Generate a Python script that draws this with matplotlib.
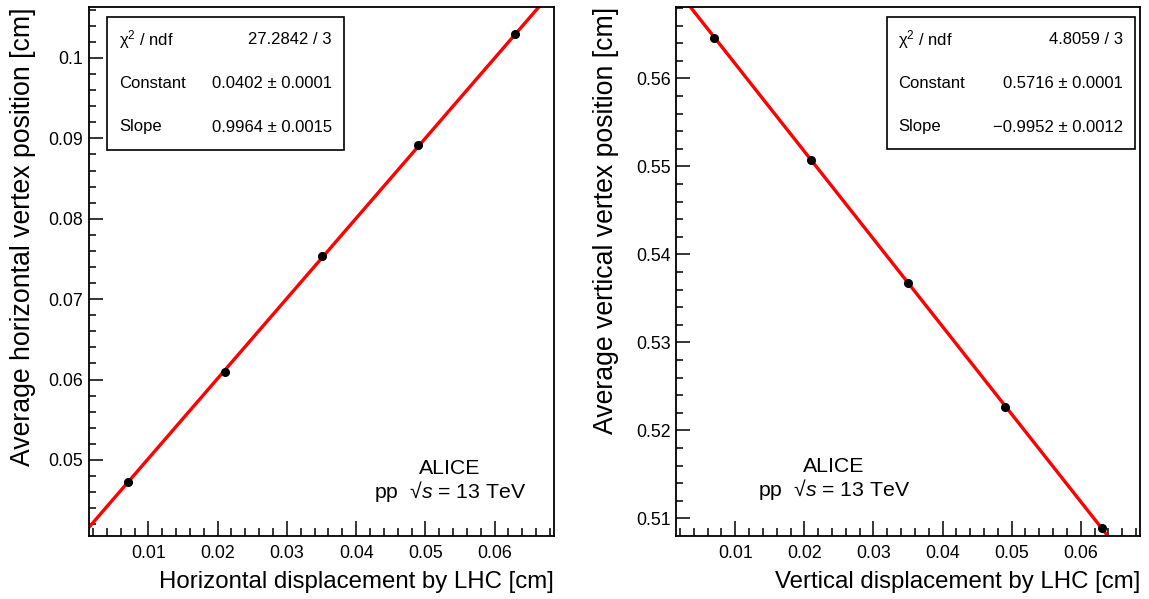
import numpy as np
import matplotlib
matplotlib.use("Agg")
import matplotlib.pyplot as plt
from matplotlib.patches import Rectangle
from matplotlib.ticker import MultipleLocator, FormatStrFormatter

plt.rcParams['font.family'] = ['Liberation Sans', 'DejaVu Sans']
plt.rcParams['mathtext.fontset'] = 'custom'
plt.rcParams['mathtext.rm'] = 'Liberation Sans'
plt.rcParams['mathtext.it'] = 'Liberation Sans:italic'

# ---- data ----
displacement = [0.007, 0.021, 0.035, 0.049, 0.063]
horiz_pos = [0.0473, 0.0609, 0.0754, 0.0892, 0.1030]
vert_pos = [0.5646, 0.5507, 0.5367, 0.5227, 0.5089]

horiz_fit = {"chi2": "27.2842 / 3", "const": 0.0402, "const_err": 0.0001,
             "slope": 0.9964, "slope_err": 0.0015}
vert_fit = {"chi2": "4.8059 / 3", "const": 0.5716, "const_err": 0.0001,
            "slope": -0.9952, "slope_err": 0.0012}

xlim = (0.00143, 0.06857)
horiz_ylim = (0.0406, 0.1063)
vert_ylim = (0.50805, 0.56807)

W, H = 1149, 599
fig = plt.figure(figsize=(W / 100, H / 100), dpi=100)


def px(x0, y0, x1, y1):
    return [x0 / W, 1 - y1 / H, (x1 - x0) / W, (y1 - y0) / H]


def fmt(v):
    s = "%.4f" % v
    return s.replace("-", "\u2212")


def panel(rect, y, fit, ylim, xlabel, ylabel, ylab_x,
          box, lab_x, val_x, alice_x, yl0):
    ax = fig.add_axes(px(*rect))
    ax.set_xlim(*xlim)
    ax.set_ylim(*ylim)
    ax.xaxis.set_major_locator(MultipleLocator(0.01))
    ax.xaxis.set_minor_locator(MultipleLocator(0.002))
    ax.yaxis.set_major_locator(MultipleLocator(0.01))
    ax.yaxis.set_minor_locator(MultipleLocator(0.002))
    ax.xaxis.set_major_formatter(FormatStrFormatter('%g'))
    ax.yaxis.set_major_formatter(FormatStrFormatter('%g'))
    ax.tick_params(axis='x', which='major', direction='in', length=11, width=1.1,
                   labelsize=12.8, pad=7)
    ax.tick_params(axis='x', which='minor', direction='in', length=5.5, width=1.1)
    ax.tick_params(axis='y', which='major', direction='in', length=10, width=1.1,
                   labelsize=12.8, pad=4)
    ax.tick_params(axis='y', which='minor', direction='in', length=5, width=1.1)
    for s in ax.spines.values():
        s.set_linewidth(1.3)

    xs = np.linspace(xlim[0], xlim[1], 200)
    ax.plot(xs, fit["const"] + fit["slope"] * xs, color='#ff0000', lw=2.4,
            zorder=2)
    ax.plot(displacement, y, 'o', color='black', ms=5.5, zorder=3)

    ax.set_xlabel(xlabel, fontsize=17.3, loc='right')
    ax.xaxis.set_label_coords(1.0, -0.088)
    ax.xaxis.label.set_va('center')
    ax.set_ylabel(ylabel, fontsize=19.2, loc='top')
    ax.yaxis.set_label_coords(ylab_x, 1.0)
    ax.yaxis.label.set_va('center')

    # stats box
    bx0, by0, bx1, by1 = box
    fig.patches.append(Rectangle((bx0 / W, 1 - by1 / H), (bx1 - bx0) / W,
                                 (by1 - by0) / H, transform=fig.transFigure,
                                 facecolor='white', edgecolor='black', lw=1.2,
                                 zorder=5))
    rows = [("\u03c7$^{2}$ / ndf", fit["chi2"]),
            ("Constant", fmt(fit["const"]) + " \u00b1 " + fmt(fit["const_err"])),
            ("Slope", fmt(fit["slope"]) + " \u00b1 " + fmt(fit["slope_err"]))]
    for (lab, val), ry in zip(rows, [40, 84, 127]):
        fig.text(lab_x / W, 1 - ry / H, lab, fontsize=12, ha='left',
                 va='center', zorder=6)
        fig.text(val_x / W, 1 - ry / H, val, fontsize=12, ha='right',
                 va='center', zorder=6)

    fig.text(alice_x / W, 1 - yl0 / H, "ALICE", fontsize=15.3, ha='center',
             va='center')
    fig.text(alice_x / W, 1 - (yl0 + 24) / H,
             "pp  \u221a$\\mathit{s}$ = 13 TeV",
             fontsize=15.3, ha='center', va='center')
    return ax


panel((89, 7.3, 554, 535.5), horiz_pos, horiz_fit, horiz_ylim,
      "Horizontal displacement by LHC [cm]",
      "Average horizontal vertex position [cm]", (23 - 89) / 465,
      (106.7, 16.7, 344, 150), 119, 332, 450, 468)
panel((676, 7.3, 1140, 535.5), vert_pos, vert_fit, vert_ylim,
      "Vertical displacement by LHC [cm]",
      "Average vertical vertex position [cm]", (606 - 676) / 464,
      (886.7, 16.7, 1135, 149), 898, 1123, 834, 466)

fig.savefig("out.png", dpi=100)
